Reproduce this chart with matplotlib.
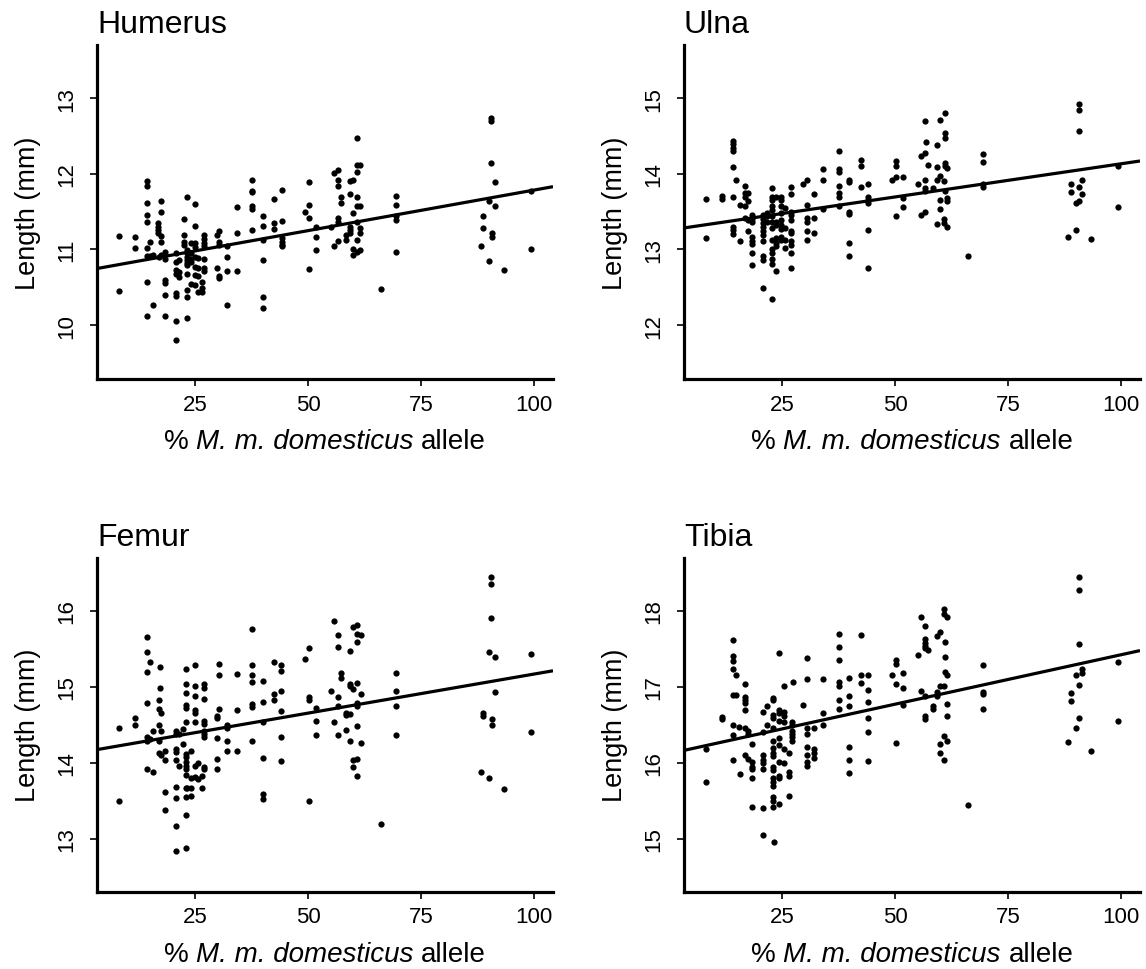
import numpy as np
import matplotlib
matplotlib.use("Agg")
import matplotlib.pyplot as plt

plt.rcParams['font.family'] = ['Liberation Sans', 'DejaVu Sans']

# ---------------- data ----------------
x_ticks = [25, 50, 75, 100]

humerus_x = [8.2, 8.2,
             11.6, 11.6,
             14.3, 14.3, 14.3, 14.3, 14.3, 14.3, 14.3, 14.3, 14.3,
             15.0, 15.0,
             15.7, 15.7,
             16.8, 16.8, 16.8, 16.8,
             17.4, 17.4, 17.4, 17.4, 17.4,
             17.0,
             18.4, 18.4, 18.4, 18.4, 18.4, 18.4,
             20.8, 20.8, 20.8, 20.8, 20.8, 20.8, 20.8, 20.8,
             21.5, 21.5, 21.5,
             22.6, 22.6, 22.6, 22.6,
             23.2, 23.2, 23.2, 23.2, 23.2, 23.2, 23.2, 23.2, 23.2, 23.2, 23.2,
             24.2, 24.2, 24.2, 24.2, 24.2,
             25.0, 25.0, 25.0, 25.0, 25.0, 25.0, 25.0, 25.0,
             25.7, 25.7, 25.7, 25.7,
             27.0, 27.0, 27.0, 27.0, 27.0, 27.0, 27.0,
             26.6, 26.6, 26.6,
             29.8, 29.8,
             30.4, 30.4, 30.4, 30.4, 30.4,
             32.0, 32.0, 32.0, 32.0,
             34.2, 34.2, 34.2,
             37.5, 37.5, 37.5, 37.5, 37.5, 37.5,
             40.0, 40.0, 40.0, 40.0, 40.0, 40.0,
             42.5, 42.5, 42.5,
             44.2, 44.2, 44.2, 44.2, 44.2, 44.2,
             49.3,
             50.2, 50.2, 50.2, 50.2,
             51.8, 51.8, 51.8,
             55.0,
             55.7, 55.7,
             56.7, 56.7, 56.7, 56.7, 56.7, 56.7,
             57.2, 57.2,
             58.5, 58.5,
             59.3, 59.3, 59.3, 59.3, 59.3,
             60.0, 60.0, 60.0, 60.0,
             60.9, 60.9, 60.9, 60.9, 60.9, 60.9, 60.9, 60.9,
             61.5, 61.5, 61.5, 61.5, 61.5,
             66.1,
             69.4, 69.4, 69.4, 69.4, 69.4,
             88.3,
             88.8, 88.8,
             90.0, 90.0,
             90.5, 90.5, 90.5,
             90.8, 90.8,
             91.4, 91.4,
             93.4,
             99.3, 99.3]
humerus_y = [11.18, 10.45,
             11.17, 11.02,
             11.90, 11.84, 11.62, 11.46, 11.36, 11.02, 10.92, 10.57, 10.12,
             11.10, 10.91,
             10.27, 10.93,
             11.35, 11.30, 11.26, 11.22,
             11.64, 11.49, 11.18, 11.10, 10.93,
             10.90,
             10.97, 10.88, 10.60, 10.56, 10.40, 10.12,
             10.95, 10.84, 10.73, 10.68, 10.43, 10.38, 10.06, 9.80,
             10.70, 10.64, 10.86,
             11.40, 11.19, 11.10, 11.06,
             11.69, 10.99, 10.95, 10.90, 10.86, 10.82, 10.79, 10.68, 10.46, 10.37, 10.09,
             11.08, 10.95, 10.88, 10.84, 10.54,
             11.60, 11.31, 11.09, 11.03, 10.90, 10.77, 10.66, 10.53,
             10.89, 10.75, 10.65, 10.44,
             11.19, 11.14, 11.08, 11.04, 10.88, 10.75, 10.71,
             10.57, 10.49, 10.44,
             11.19, 10.76,
             11.25, 11.10, 11.06, 10.65, 10.62,
             11.04, 10.90, 10.71, 10.27,
             11.56, 11.22, 10.71,
             11.92, 11.77, 11.76, 11.57, 11.53, 11.26,
             11.44, 11.31, 11.12, 10.86, 10.37, 10.22,
             11.67, 11.35, 11.27,
             11.79, 11.38, 11.15, 11.10, 11.06, 11.04,
             11.50,
             11.89, 11.59, 11.42, 10.74,
             11.30, 11.16, 10.99,
             11.30,
             12.01, 11.05,
             12.05, 11.92, 11.84, 11.42, 11.37, 11.11,
             11.70, 11.62,
             11.19, 11.13,
             11.90, 11.73, 11.30, 11.26, 11.22,
             11.92, 11.48, 11.00, 10.93,
             12.47, 12.12, 12.03, 11.70, 11.57, 11.36, 11.12, 10.97,
             12.12, 11.57, 11.28, 11.22, 10.99,
             10.48,
             11.71, 11.59, 11.44, 11.39, 10.97,
             11.05,
             11.44, 11.28,
             11.64, 10.85,
             12.74, 12.70, 12.15,
             11.22, 11.16,
             11.89, 11.58,
             10.73,
             11.77, 11.00]

ulna_x = [8.2, 8.2,
          11.7, 11.7,
          14.1, 14.1, 14.1, 14.1, 14.1, 14.1, 14.1, 14.1, 14.1,
          14.8,
          15.8, 15.8,
          16.7, 16.7, 16.7, 16.7, 16.7,
          17.4, 17.4, 17.4, 17.4,
          18.3, 18.3, 18.3, 18.3, 18.3, 18.3, 18.3, 18.3,
          20.7, 20.7, 20.7, 20.7, 20.7, 20.7, 20.7, 20.7, 20.7, 20.7,
          21.7, 21.7, 21.7,
          22.7, 22.7, 22.7, 22.7, 22.7, 22.7, 22.7, 22.7, 22.7, 22.7, 22.7, 22.7, 22.7, 22.7,
          23.6, 23.6, 23.6, 23.6, 23.6, 23.6, 23.6,
          24.8, 24.8, 24.8, 24.8, 24.8, 24.8, 24.8, 24.8, 24.8,
          25.7, 25.7, 25.7, 25.7,
          26.9, 26.9, 26.9, 26.9, 26.9, 26.9, 26.9, 26.9, 26.9, 26.9, 26.9,
          29.6,
          30.5, 30.5, 30.5, 30.5, 30.5, 30.5,
          32.0, 32.0, 32.0,
          34.1, 34.1, 34.1,
          37.5, 37.5, 37.5, 37.5, 37.5, 37.5, 37.5,
          39.9, 39.9, 39.9, 39.9, 39.9, 39.9,
          42.5, 42.5, 42.5,
          44.1, 44.1, 44.1, 44.1, 44.1, 44.1,
          49.3,
          50.2, 50.2, 50.2, 50.2,
          51.7, 51.7, 51.7,
          55.0,
          55.7, 55.7,
          56.7, 56.7, 56.7, 56.7, 56.7, 56.7, 56.9,
          57.4,
          58.5,
          59.2, 59.2, 59.2, 59.2,
          60.0, 60.0, 60.0, 60.0,
          60.8, 60.8, 60.8,
          61.0, 61.0, 61.0, 61.0, 61.0, 61.0,
          61.4, 61.4, 61.4, 61.6,
          66.1,
          69.4, 69.4, 69.4, 69.4,
          88.2,
          89.0, 89.0,
          90.0, 90.0,
          90.6, 90.6, 90.6,
          90.7, 90.7,
          91.4, 91.4,
          93.4,
          99.3, 99.3]
ulna_y = [13.67, 13.15,
          13.71, 13.67,
          14.43, 14.39, 14.34, 14.30, 14.09, 13.70, 13.30, 13.26, 13.21,
          13.92,
          13.59, 13.11,
          13.84, 13.75, 13.70, 13.57, 13.42,
          13.75, 13.64, 13.39, 13.25,
          13.46, 13.40, 13.36, 13.17, 13.11, 13.07, 12.95, 12.80,
          13.46, 13.40, 13.35, 13.30, 13.25, 13.19, 13.11, 12.91, 12.86, 12.49,
          13.48, 13.44, 13.37,
          13.81, 13.70, 13.66, 13.57, 13.52, 13.44, 13.36, 13.28, 13.13, 13.00, 12.95, 12.87, 12.81, 12.34,
          13.70, 13.37, 13.33, 13.15, 13.08, 13.04, 12.72,
          13.70, 13.66, 13.57, 13.48, 13.39, 13.33, 13.27, 13.17, 13.13,
          13.55, 13.28, 13.13, 13.02,
          13.83, 13.73, 13.50, 13.46, 13.39, 13.25, 13.22, 13.11, 13.06, 12.96, 12.76,
          13.86,
          13.92, 13.59, 13.42, 13.37, 13.24, 13.13,
          13.73, 13.42, 13.22,
          14.06, 13.92, 13.53,
          14.30, 14.06, 14.02, 13.84, 13.75, 13.70, 13.57,
          13.92, 13.89, 13.50, 13.47, 13.08, 12.92,
          14.19, 14.10, 13.83,
          13.87, 13.70, 13.66, 13.61, 13.26, 12.75,
          13.92,
          14.17, 14.11, 13.96, 13.44,
          13.96, 13.68, 13.56,
          13.86,
          14.24, 13.45,
          14.70, 14.27, 13.92, 13.81, 13.78, 13.49, 14.42,
          14.12,
          13.82,
          14.38, 14.09, 13.92, 13.34,
          14.71, 13.97, 13.66, 13.54,
          13.90, 13.40, 13.35,
          14.80, 14.54, 14.47, 14.15, 14.11, 13.77,
          13.30, 13.68, 13.64, 14.08,
          12.92,
          14.26, 14.16, 13.87, 13.83,
          13.17,
          13.86, 13.76,
          13.61, 13.26,
          14.92, 14.85, 14.57,
          13.83, 13.64,
          13.92, 13.73,
          13.14,
          14.10, 13.56]

femur_x = [8.2, 8.2,
           11.6, 11.6,
           14.3, 14.3, 14.3, 14.3, 14.3, 14.3, 14.3,
           15.0, 15.0,
           15.7, 15.7,
           17.2, 17.2, 17.0, 17.0, 17.4, 17.0, 17.4, 17.0, 17.0, 17.4,
           18.4, 18.4, 18.4, 18.4,
           20.8, 20.8, 20.8, 20.8, 20.8, 20.8, 20.8, 20.8, 20.8,
           21.5, 21.5,
           22.4, 22.4,
           23.0, 23.0, 23.0, 23.0, 23.0, 23.0, 23.0, 23.0, 23.0, 23.0, 23.0, 23.0, 23.0, 23.3, 23.0, 23.0, 23.0,
           24.2, 24.2, 24.2, 24.2,
           25.0, 25.0, 25.0, 25.0, 25.0, 25.0, 25.0, 25.0,
           25.7, 25.7,
           27.0, 27.0, 27.0, 27.0, 27.0, 27.0, 27.0, 27.0, 27.0, 27.0, 26.6, 26.6,
           30.4, 30.4, 30.4, 29.8, 29.8, 29.8, 29.8, 29.8,
           32.0, 32.0, 32.0, 32.0,
           34.2, 34.2, 34.2,
           37.5, 37.5, 37.5, 37.5, 37.5, 37.5, 37.5,
           40.0, 40.0, 40.0, 40.0, 40.0, 40.0,
           42.5, 42.5, 42.5,
           44.0, 44.0, 44.0, 44.0, 44.0, 44.0,
           49.3,
           50.2, 50.2, 50.2, 50.2,
           51.7, 51.7, 51.7,
           55.0,
           55.7, 55.7,
           56.7, 56.7, 56.7, 56.7, 56.7,
           57.2, 57.2,
           58.5, 58.5, 58.5,
           59.3, 59.3, 59.3, 59.3, 59.3,
           59.9, 59.9, 59.9, 59.9,
           60.8, 60.8, 60.8, 60.8, 60.8, 60.8, 60.8, 60.8, 60.8,
           61.7, 61.7, 61.7,
           66.1,
           69.4, 69.4, 69.4, 69.4,
           88.3,
           88.8, 88.8,
           90.0, 90.0,
           90.5, 90.5, 90.5,
           90.8, 90.8,
           91.4, 91.4,
           93.4,
           99.3, 99.3]
femur_y = [14.45, 13.49,
           14.59, 14.49,
           15.65, 15.46, 15.19, 14.78, 14.34, 14.28, 13.91,
           15.33, 14.31,
           14.42, 13.88,
           15.26, 14.98, 14.83, 14.71, 14.66, 14.49, 14.42, 14.29, 14.13, 14.10,
           14.16, 14.03, 13.62, 13.38,
           14.42, 14.38, 14.18, 14.14, 14.03, 13.68, 13.53, 13.17, 12.83,
           14.38, 13.95,
           14.44, 14.25,
           15.23, 15.04, 14.92, 14.76, 14.72, 14.53, 14.12, 14.07, 14.01, 13.96, 13.92, 13.84, 13.66, 13.66, 13.55, 13.31, 12.87,
           14.16, 13.66, 13.56, 13.80,
           15.28, 15.01, 14.88, 14.69, 14.66, 14.53, 13.96, 13.81,
           13.99, 13.79,
           15.04, 14.98, 14.84, 14.55, 14.51, 14.42, 14.38, 14.34, 13.94, 13.92, 13.83, 13.66,
           15.30, 15.16, 14.71, 14.62, 14.59, 14.33, 14.05, 13.92,
           14.50, 14.45, 14.28, 14.16,
           15.17, 14.70, 14.15,
           15.76, 15.28, 15.15, 15.06, 14.77, 14.73, 14.29,
           15.07, 14.80, 14.54, 14.06, 13.59, 13.52,
           15.32, 14.90, 14.83,
           15.29, 15.21, 14.94, 14.68, 14.34, 14.02,
           15.36,
           15.51, 14.87, 14.82, 13.49,
           14.72, 14.55, 14.37,
           14.94,
           15.87, 14.54,
           15.68, 15.52, 14.87, 14.74, 14.37,
           15.18, 15.12,
           14.63, 14.65, 14.43,
           15.47, 15.04, 15.01, 14.64, 14.28,
           15.79, 14.97, 14.03, 13.94,
           15.81, 15.69, 15.59, 15.05, 14.79, 14.74, 14.48, 14.05, 13.83,
           15.68, 14.90, 14.26,
           13.19,
           15.18, 14.94, 14.74, 14.36,
           13.88,
           14.66, 14.62,
           15.46, 13.80,
           16.45, 16.35, 15.90,
           14.58, 14.50,
           15.39, 14.93,
           13.65,
           15.43, 14.40]

tibia_x = [8.2, 8.2,
           11.7, 11.7,
           14.1, 14.1, 14.1, 14.1, 14.1, 14.1, 14.1, 14.1,
           14.8, 14.8,
           15.8, 15.4,
           16.9, 16.9, 16.9, 16.9, 16.9, 16.9, 17.4, 17.4, 16.9, 17.4,
           18.3, 18.3, 18.3, 18.3, 18.3, 18.3,
           20.7, 20.7, 20.7, 20.7, 20.7, 20.7, 20.7, 20.7,
           21.7, 21.7,
           23.0, 23.0, 23.0, 23.0, 23.0, 23.0, 23.0, 23.0, 23.0, 23.0, 23.0, 23.0, 23.0, 23.0, 23.0, 23.0, 23.0, 23.3,
           24.4, 24.4, 24.4, 24.4, 24.4, 24.4, 24.4, 24.4, 24.4, 24.4,
           25.4, 25.4, 25.4, 25.4, 25.4, 25.4,
           26.6, 26.6, 26.6, 26.6,
           27.2, 27.2, 27.2, 27.2, 27.2, 27.2,
           27.5,
           29.6,
           30.5, 30.5, 30.5, 30.5, 30.5, 30.5, 30.5, 30.5,
           32.0, 32.0, 32.0, 32.0,
           34.1, 34.1, 34.1,
           37.5, 37.5, 37.5, 37.5, 37.5, 37.5, 37.5,
           39.9, 39.9, 39.9, 39.9, 39.9, 39.9,
           42.5, 42.5, 42.5,
           44.1, 44.1, 44.1, 44.1, 44.1, 44.1,
           49.3,
           50.2, 50.2, 50.2, 50.2,
           51.7, 51.7, 51.7,
           55.0,
           55.7, 55.7,
           56.7, 56.7, 56.7, 56.7, 56.7, 56.7, 56.7, 56.7,
           57.4,
           58.5, 58.5,
           59.2, 59.2, 59.2,
           60.0, 60.0, 60.0, 60.0,
           60.8, 60.8, 60.8, 60.8, 60.8,
           61.0, 61.0, 61.0,
           61.4, 61.4, 61.4, 61.4, 61.4,
           66.1,
           69.4, 69.4, 69.4, 69.4,
           88.2,
           89.0, 89.0,
           90.0, 90.0,
           90.6, 90.6, 90.6,
           90.7, 90.7,
           91.4, 91.4,
           93.4,
           99.3, 99.3]
tibia_y = [16.18, 15.74,
           16.60, 16.57,
           17.62, 17.40, 17.34, 17.24, 16.89, 16.50, 16.37, 16.04,
           17.15, 16.89,
           15.85, 16.47,
           17.04, 16.87, 16.82, 16.79, 16.69, 16.45, 16.42, 16.38, 16.10, 16.05,
           16.25, 16.01, 15.94, 15.91, 15.80, 15.41,
           16.67, 16.41, 16.10, 16.04, 15.99, 15.92, 15.40, 15.05,
           16.74, 16.50,
           16.85, 16.82, 16.63, 16.59, 16.45, 16.29, 16.19, 16.13, 16.09, 15.94, 15.90, 15.80, 15.74, 15.69, 15.55, 15.50, 15.42, 14.96,
           17.45, 16.69, 16.66, 16.55, 16.32, 16.23, 16.01, 15.83, 15.80, 15.45,
           17.01, 16.67, 16.62, 16.53, 16.18, 16.00,
           16.13, 15.88, 15.82, 15.56,
           16.53, 16.49, 16.42, 16.38, 16.34, 16.29,
           17.06,
           16.76,
           17.38, 17.10, 16.45, 16.38, 16.20, 16.10, 16.01, 15.96,
           16.45, 16.18, 16.13, 16.06,
           17.10, 16.66, 16.50,
           17.69, 17.52, 17.35, 17.06, 17.01, 16.83, 16.71,
           17.12, 16.88, 16.74, 16.21, 16.04, 15.86,
           17.68, 17.15, 17.05,
           17.15, 16.96, 16.80, 16.59, 16.41, 16.02,
           17.15,
           17.35, 17.30, 17.04, 16.26,
           17.18, 16.98, 16.76,
           17.42,
           17.92, 16.95,
           17.80, 17.63, 17.58, 17.54, 17.51, 16.88, 16.62, 16.57,
           17.49,
           16.75, 16.71,
           17.67, 16.93, 16.88,
           17.72, 17.01, 16.25, 16.13,
           18.03, 17.96, 17.01, 16.35, 16.04,
           17.59, 17.39, 17.20,
           17.92, 17.15, 16.77, 16.61, 16.29,
           15.44,
           17.29, 16.93, 16.90, 16.71,
           16.27,
           16.92, 16.81,
           17.15, 16.46,
           18.44, 18.28, 17.56,
           17.02, 16.59,
           17.23, 17.18,
           16.16,
           17.32, 16.55]

humerus_ticks = [10, 11, 12, 13]
ulna_ticks = [12, 13, 14, 15]
femur_ticks = [13, 14, 15, 16]
tibia_ticks = [15, 16, 17, 18]

xlabel_parts = [("%", "normal"), ("M. m. domesticus", "italic"), ("allele", "normal")]

# ---------------- layout ----------------
W, H = 1146, 970
fig = plt.figure(figsize=(W / 100, H / 100), dpi=100)
renderer = fig.canvas.get_renderer()
LABEL_FS = 19.5
XLABEL_FS = 20


def px_axes(l, t, r, b):
    return [l / W, 1 - b / H, (r - l) / W, (b - t) / H]


def text_width(s, style):
    t = fig.text(0, 0, s, fontsize=XLABEL_FS, style=style)
    w = t.get_window_extent(renderer).width
    t.remove()
    return w


space_w = text_width("a a", "normal") - text_width("aa", "normal")
part_w = [text_width(s, st) for s, st in xlabel_parts]
total_w = sum(part_w) + space_w * (len(part_w) - 1)

XLIM = (3.3, 104.2)
panels = [
    ("Humerus", humerus_x, humerus_y, (9.287, 13.705), humerus_ticks, (97, 46, 553, 380)),
    ("Ulna", ulna_x, ulna_y, (11.287, 15.705), ulna_ticks, (684, 46, 1140, 380)),
    ("Femur", femur_x, femur_y, (12.30, 16.70), femur_ticks, (97, 558.7, 553, 892.7)),
    ("Tibia", tibia_x, tibia_y, (14.30, 18.70), tibia_ticks, (684, 558.7, 1140, 892.7)),
]

for title, xs, ys, ylim, yt, box in panels:
    rect = px_axes(*box)
    ax = fig.add_axes(rect)
    xs = np.asarray(xs, float)
    ys = np.asarray(ys, float)
    ax.plot(xs, ys, 'o', color='black', markersize=4.5, markeredgewidth=0)
    slope, inter = np.polyfit(xs, ys, 1)
    xl = np.array(XLIM)
    ax.plot(xl, inter + slope * xl, color='black', lw=2.3, solid_capstyle='butt')
    ax.set_xlim(*XLIM)
    ax.set_ylim(*ylim)
    ax.set_xticks(x_ticks)
    ax.set_yticks(yt)
    for s in ('top', 'right'):
        ax.spines[s].set_visible(False)
    for s in ('left', 'bottom'):
        ax.spines[s].set_linewidth(2.3)
    ax.tick_params(axis='both', direction='out', length=5, width=1.2, labelsize=16)
    ax.tick_params(axis='x', pad=5.5)
    ax.tick_params(axis='y', pad=9.5, labelrotation=90)
    for lab in ax.get_yticklabels():
        lab.set_va('center')
    l, t, r, b = box
    ax_h = b - t
    ax_w = r - l
    ax.text(0, 1 + 13 / ax_h, title, transform=ax.transAxes, ha='left', va='baseline', fontsize=23)
    ax.text(-(69) / ax_w, 0.5, 'Length (mm)', transform=ax.transAxes, rotation=90,
            ha='center', va='center', fontsize=LABEL_FS)
    # x label built from upright and italic pieces
    xpos = (l + r) / 2 - total_w / 2
    base_y = b + 69
    for (s, st), w in zip(xlabel_parts, part_w):
        fig.text(xpos / W, 1 - base_y / H, s, fontsize=XLABEL_FS, style=st,
                 ha='left', va='baseline')
        xpos += w + space_w

fig.savefig('out.png', dpi=100)
